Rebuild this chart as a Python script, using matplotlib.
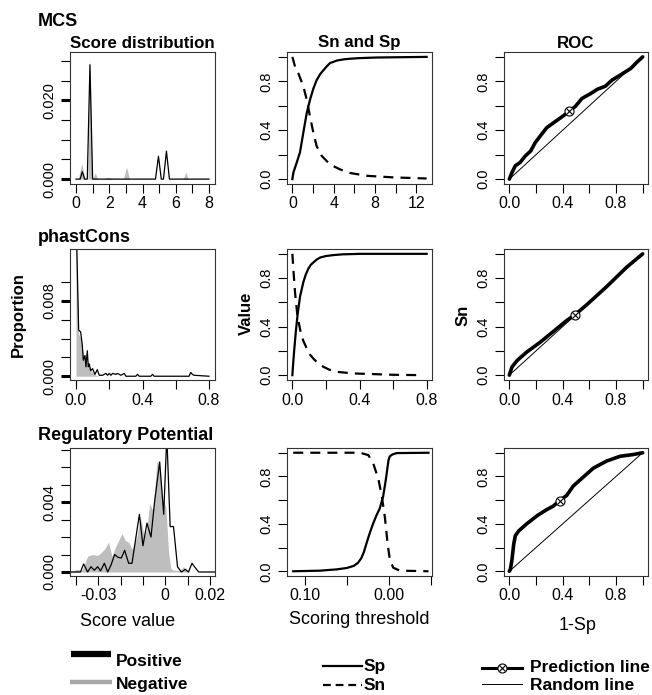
"""Score distribution, Sn/Sp and ROC panels for MCS, phastCons and RP."""

import matplotlib
matplotlib.use("Agg")
from matplotlib import pyplot as plt

plt.rcParams["font.family"] = ["Liberation Sans", "DejaVu Sans"]

W, H = 652, 695
GREY = "#bebebe"

# ---------------- data ----------------
# MCS score distribution (positive = black line, negative = grey fill)
mcs_pos_x = [0, 0.25, 0.38, 0.52, 0.68, 0.84, 1.0, 1.3, 4.78, 4.96, 5.13, 5.26, 5.44, 5.62, 8.0]
mcs_pos_y = [0, 0, 0.0019, 0, 0, 0.029, 0, 0, 0, 0.0058, 0, 0, 0.0071, 0, 0]
mcs_neg_x = [0, 0.14, 0.34, 0.55, 0.72, 0.84, 0.97, 1.08, 1.16, 1.3, 1.7, 1.85, 2.0, 2.15,
             2.85, 3.04, 3.22, 6.45, 6.6, 6.75, 8.0]
mcs_neg_y = [0, 0, 0.004, 0, 0, 0.031, 0, 0.0008, 0.0016, 0, 0, 0.0004, 0.0004, 0,
             0, 0.0031, 0, 0, 0.0018, 0, 0]

# phastCons score distribution
pc_pos_x = [0.0, 0.016, 0.028, 0.038, 0.044, 0.054, 0.06, 0.068, 0.074, 0.08, 0.088, 0.1,
            0.114, 0.128, 0.14, 0.16, 0.18, 0.19, 0.2, 0.21, 0.22, 0.24, 0.25, 0.27, 0.29,
            0.3, 0.36, 0.37, 0.38, 0.45, 0.46, 0.47, 0.68, 0.69, 0.7, 0.71, 0.8]
pc_pos_y = [0.0175, 0.0049, 0.0047, 0.0033, 0.0017, 0.0022, 0.001, 0.0027, 0.001, 0.0013,
            0.0006, 0.0008, 0.0002, 0.0007, 0.0001, 0.0001, 0.0003, 0.0001, 0.0003, 0.0001,
            0.0003, 0.0002, 0.0003, 0.0001, 0.0003, 0, 0, 0.0002, 0, 0, 0.0002, 0, 0,
            0.0004, 0.0002, 0.0001, 0]
pc_neg_x = [0.0, 0.016, 0.028, 0.04, 0.05, 0.06, 0.07, 0.08, 0.09, 0.1, 0.12, 0.14, 0.8]
pc_neg_y = [0.0165, 0.0045, 0.004, 0.0028, 0.0018, 0.0012, 0.0016, 0.001, 0.0006, 0.0004,
            0.0001, 0, 0]

# Regulatory Potential score distribution
rp_pos_x = [-0.043, -0.038, -0.0366, -0.0348, -0.0333, -0.0318, -0.0303, -0.029, -0.0273,
            -0.0258, -0.0243, -0.0227, -0.0212, -0.0197, -0.0182, -0.0164, -0.0149, -0.0116,
            -0.01, -0.0082, -0.0064, -0.0048, -0.0025, -0.0007, 0.0007, 0.0022, 0.0037,
            0.0055, 0.0072, 0.009, 0.0104, 0.012, 0.0134, 0.015, 0.023]
rp_pos_y = [0, 0, 0.00046, 0, 0.0003, 0.0001, 0.0003, 0.00006, 0.0005, 0, 0.0004, 0.001,
            0.00084, 0.0008, 0.00124, 0.0005, 0.0005, 0.0033, 0.0015, 0.0028, 0.002, 0.004,
            0.0063, 0.0033, 0.0078, 0.0026, 0.0026, 0.0003, 0, 0.00015, 0, 0.0005, 0.00025,
            0, 0]
rp_neg_x = [-0.043, -0.0396, -0.0373, -0.0348, -0.0328, -0.0303, -0.0288, -0.0273, -0.0254,
            -0.0239, -0.0224, -0.0194, -0.0179, -0.0164, -0.0149, -0.0127, -0.0112, -0.0094,
            -0.0082, -0.007, -0.0055, -0.0037, -0.0025, -0.0012, 0.0003, 0.0015, 0.0025,
            0.0037, 0.0067, 0.0082, 0.0097, 0.011, 0.023]
rp_neg_y = [0, 0.00015, 0.0001, 0.0009, 0.001, 0.00095, 0.0011, 0.0013, 0.0017, 0.0009,
            0.0014, 0.0022, 0.0018, 0.0017, 0.0013, 0.002, 0.0032, 0.002, 0.0025, 0.0039,
            0.0035, 0.0064, 0.006, 0.0042, 0.0037, 0.0011, 0.0002, 0.0001, 0.0001, 0.0003,
            0.0001, 0, 0]

# Sn and Sp against scoring threshold
mcs_sp_x = [0, 0.1, 0.42, 0.74, 1.06, 1.39, 1.71, 2.03, 2.35, 2.7, 3.0, 3.3, 3.65, 4.0, 4.3,
            5.0, 5.6, 6.5, 8.2, 13]
mcs_sp_y = [0, 0.054, 0.135, 0.22, 0.38, 0.54, 0.65, 0.74, 0.81, 0.86, 0.89, 0.92, 0.95,
            0.96, 0.97, 0.98, 0.985, 0.99, 0.995, 1.0]
mcs_sn_x = [0, 0.26, 0.58, 1.06, 1.39, 1.71, 2.03, 2.35, 2.84, 3.65, 4.6, 5.6, 7.2, 9.8, 13]
mcs_sn_y = [1.0, 0.92, 0.865, 0.76, 0.65, 0.51, 0.38, 0.27, 0.19, 0.12, 0.08, 0.05, 0.027, 0.014, 0.005]

pc_sp_x = [0, 0.005, 0.01, 0.02, 0.032, 0.046, 0.066, 0.08, 0.096, 0.11, 0.126, 0.145,
           0.166, 0.2, 0.246, 0.3, 0.4, 0.8]
pc_sp_y = [0, 0.1, 0.19, 0.35, 0.51, 0.65, 0.77, 0.83, 0.88, 0.91, 0.93, 0.953, 0.97, 0.982,
           0.99, 0.996, 1.0, 1.0]
pc_sn_x = [0, 0.006, 0.016, 0.03, 0.05, 0.066, 0.086, 0.105, 0.126, 0.155, 0.186, 0.22,
           0.266, 0.366, 0.6, 0.77]
pc_sn_y = [1.0, 0.87, 0.68, 0.49, 0.35, 0.28, 0.22, 0.17, 0.135, 0.095, 0.068, 0.045,
           0.027, 0.014, 0.003, 0.0]

rp_sp_x = [0.114, 0.082, 0.062, 0.05, 0.042, 0.037, 0.033, 0.03, 0.027, 0.023, 0.019, 0.015,
           0.011, 0.007, 0.0036, 0.0015, 0.0005, -0.001, -0.004, -0.009, -0.047]
rp_sp_y = [0, 0.005, 0.016, 0.028, 0.045, 0.07, 0.11, 0.16, 0.23, 0.32, 0.4, 0.47, 0.53,
           0.63, 0.78, 0.89, 0.94, 0.97, 0.985, 0.997, 1.0]
rp_sn_x = [0.114, 0.0345, 0.0246, 0.019, 0.0127, 0.0087, 0.0048, 0.0016, -0.001, -0.005,
           -0.013, -0.047]
rp_sn_y = [1.0, 1.0, 0.98, 0.915, 0.78, 0.64, 0.45, 0.23, 0.1, 0.03, 0.005, 0.0]

# ROC curves (1-Sp, Sn) and the chosen prediction point
mcs_roc_x = [0, 0.02, 0.045, 0.08, 0.12, 0.16, 0.195, 0.23, 0.28, 0.33, 0.395, 0.45, 0.495,
             0.545, 0.61, 0.66, 0.72, 0.77, 0.83, 0.91, 0.96, 1.0]
mcs_roc_y = [0, 0.054, 0.11, 0.135, 0.19, 0.23, 0.3, 0.35, 0.42, 0.46, 0.51, 0.555, 0.595,
             0.66, 0.70, 0.735, 0.76, 0.81, 0.85, 0.905, 0.96, 1.0]
mcs_point = (0.45, 0.554)
pc_roc_x = [0, 0.02, 0.058, 0.13, 0.23, 0.33, 0.43, 0.495, 0.58, 0.73, 0.88, 1.0]
pc_roc_y = [0, 0.068, 0.12, 0.19, 0.27, 0.36, 0.45, 0.5, 0.58, 0.73, 0.89, 1.0]
pc_point = (0.495, 0.5)
rp_roc_x = [0, 0.008, 0.02, 0.033, 0.045, 0.07, 0.13, 0.21, 0.28, 0.33, 0.378, 0.43, 0.48,
            0.56, 0.63, 0.73, 0.83, 0.93, 1.0]
rp_roc_y = [0, 0.016, 0.1, 0.23, 0.3, 0.34, 0.4, 0.47, 0.52, 0.55, 0.597, 0.64, 0.72, 0.8,
            0.87, 0.93, 0.97, 0.985, 1.0]
rp_point = (0.378, 0.597)

random_line = [0, 1]

# ---------------- layout (pixels) ----------------
cols = [(70, 215), (287, 432), (504, 648)]
rows = [(52, 184), (249, 380), (448, 576)]

fig = plt.figure(figsize=(W / 100, H / 100), dpi=100)


def px_axes(col, row):
    x0, x1 = cols[col]
    y0, y1 = rows[row]
    return fig.add_axes([x0 / W, 1 - y1 / H, (x1 - x0) / W, (y1 - y0) / H])


def style(ax, xticks, xlabels, yticks, ylabels, thick_y=False):
    ax.set_xticks(xticks)
    ax.set_xticklabels(xlabels)
    ax.set_yticks(yticks)
    ax.set_yticklabels(ylabels, rotation=90, va="center")
    ax.tick_params(direction="out", length=6.5, width=0.8, color="black")
    ax.tick_params(axis="x", labelsize=11.5, pad=2.5)
    ax.tick_params(axis="y", labelsize=10.5, pad=3)
    for sp in ax.spines.values():
        sp.set_linewidth(0.8)
        sp.set_color("#333333")
    if thick_y:
        for tick, lab in zip(ax.yaxis.get_major_ticks(), ylabels):
            if lab:
                tick.tick1line.set_markeredgewidth(2.2)


def dist_panel(row, pos_x, pos_y, neg_x, neg_y, xlim, ylim, xt, xl, yt, yl):
    ax = px_axes(0, row)
    ax.fill_between(neg_x, neg_y, 0, color=GREY, lw=0)
    ax.plot(pos_x, pos_y, color="black", lw=0.9)
    ax.set_xlim(*xlim)
    ax.set_ylim(*ylim)
    style(ax, xt, xl, yt, yl, thick_y=True)
    return ax


def snsp_panel(row, sp_x, sp_y, sn_x, sn_y, xlim, xt, xl):
    ax = px_axes(1, row)
    ax.plot(sp_x, sp_y, color="black", lw=1.6)
    ax.plot(sn_x, sn_y, color="black", lw=1.6, dashes=(4.5, 3.2))
    ax.set_xlim(*xlim)
    ax.set_ylim(-0.04, 1.04)
    style(ax, xt, xl, [0, 0.2, 0.4, 0.6, 0.8, 1.0], ["0.0", "", "0.4", "", "0.8", ""])
    return ax


def roc_panel(row, rx, ry, point):
    ax = px_axes(2, row)
    ax.plot(random_line, random_line, color="black", lw=0.7)
    ax.plot(rx, ry, color="black", lw=2.6, solid_capstyle="round")
    ax.plot(*point, marker="o", ms=6.5, mfc="white", mec="black", mew=0.8)
    ax.plot(*point, marker="x", ms=5, mec="black", mew=0.8)
    ax.set_xlim(-0.04, 1.04)
    ax.set_ylim(-0.04, 1.04)
    unit = [0, 0.2, 0.4, 0.6, 0.8, 1.0]
    style(ax, unit, ["0.0", "", "0.4", "", "0.8", ""], unit, ["0.0", "", "0.4", "", "0.8", ""])
    return ax


dist_panel(0, mcs_pos_x, mcs_pos_y, mcs_neg_x, mcs_neg_y,
           (-0.36, 8.36), (-0.00124, 0.03224),
           list(range(9)), ["0", "", "2", "", "4", "", "6", "", "8"],
           [0, 0.005, 0.01, 0.015, 0.02, 0.025, 0.03],
           ["0.000", "", "", "", "0.020", "", ""])
dist_panel(1, pc_pos_x, pc_pos_y, pc_neg_x, pc_neg_y,
           (-0.036, 0.836), (-0.0004, 0.0135),
           [0, 0.2, 0.4, 0.6, 0.8], ["0.0", "", "0.4", "", "0.8"],
           [0, 0.002, 0.004, 0.006, 0.008, 0.010],
           ["0.000", "", "", "", "0.008", ""])
dist_panel(2, rp_pos_x, rp_pos_y, rp_neg_x, rp_neg_y,
           (-0.0427, 0.0223), (-0.00023, 0.0071),
           [-0.04, -0.03, -0.02, -0.01, 0, 0.01, 0.02], ["", "-0.03", "", "", "0", "", "0.02"],
           [0, 0.001, 0.002, 0.003, 0.004, 0.005, 0.006, 0.007],
           ["0.000", "", "", "", "0.004", "", "", ""])

snsp_panel(0, mcs_sp_x, mcs_sp_y, mcs_sn_x, mcs_sn_y, (-0.52, 13.52),
           [0, 2, 4, 6, 8, 10, 12], ["0", "", "4", "", "8", "", "12"])
snsp_panel(1, pc_sp_x, pc_sp_y, pc_sn_x, pc_sn_y, (-0.032, 0.832),
           [0, 0.2, 0.4, 0.6, 0.8], ["0.0", "", "0.4", "", "0.8"])
snsp_panel(2, rp_sp_x, rp_sp_y, rp_sn_x, rp_sn_y, (0.1214, -0.0512),
           [0.10, 0.05, 0.0, -0.05], ["0.10", "", "0.00", ""])

roc_panel(0, mcs_roc_x, mcs_roc_y, mcs_point)
roc_panel(1, pc_roc_x, pc_roc_y, pc_point)
roc_panel(2, rp_roc_x, rp_roc_y, rp_point)

# ---------------- overlay for titles, labels and legends ----------------
ov = fig.add_axes([0, 0, 1, 1], zorder=-1)
ov.set_xlim(0, W)
ov.set_ylim(H, 0)
ov.axis("off")

bold = dict(fontweight="bold")
for label, y in [("MCS", 22), ("phastCons", 238), ("Regulatory Potential", 435)]:
    ov.text(38, y, label, fontsize=13, ha="left", va="center", **bold)
ov.text(142.5, 43, "Score distribution", fontsize=12.2, ha="center", va="center", **bold)
ov.text(359.5, 43, "Sn and Sp", fontsize=12.2, ha="center", va="center", **bold)
ov.text(576, 43, "ROC", fontsize=12.2, ha="center", va="center", **bold)

ov.text(18, 315, "Proportion", fontsize=12, rotation=90, ha="center", va="center", **bold)
ov.text(246, 313, "Value", fontsize=12, rotation=90, ha="center", va="center", **bold)
ov.text(463, 315, "Sn", fontsize=12, rotation=90, ha="center", va="center", **bold)

ov.text(127.5, 622, "Score value", fontsize=13, ha="center", va="center")
ov.text(359, 620, "Scoring threshold", fontsize=13, ha="center", va="center")
ov.text(578, 625, "1-Sp", fontsize=13, ha="center", va="center")

# legends
ov.plot([71, 111], [654, 654], color="black", lw=4.5, solid_capstyle="butt")
ov.text(116, 662, "Positive", fontsize=12.5, ha="left", va="center", **bold)
ov.plot([70, 112], [682, 682], color="#a8a8a8", lw=3.2, solid_capstyle="butt")
ov.text(116, 684, "Negative", fontsize=12.5, ha="left", va="center", **bold)

ov.plot([323, 362], [666, 666], color="black", lw=1.6)
ov.text(364, 666, "Sp", fontsize=12.5, ha="left", va="center", **bold)
ov.plot([323, 362], [685, 685], color="black", lw=1.6, dashes=(3.5, 2.2))
ov.text(364, 685, "Sn", fontsize=12.5, ha="left", va="center", **bold)

ov.plot([482, 522], [668, 668], color="black", lw=2.2)
ov.plot([502], [668], marker="o", ms=6.5, mfc="white", mec="black", mew=0.8)
ov.plot([502], [668], marker="x", ms=5, mec="black", mew=0.8)
ov.text(530, 668, "Prediction line", fontsize=12.5, ha="left", va="center", **bold)
ov.plot([482, 522], [684, 684], color="black", lw=0.7)
ov.text(530, 685, "Random line", fontsize=12.5, ha="left", va="center", **bold)

fig.savefig("out.png", dpi=100)
